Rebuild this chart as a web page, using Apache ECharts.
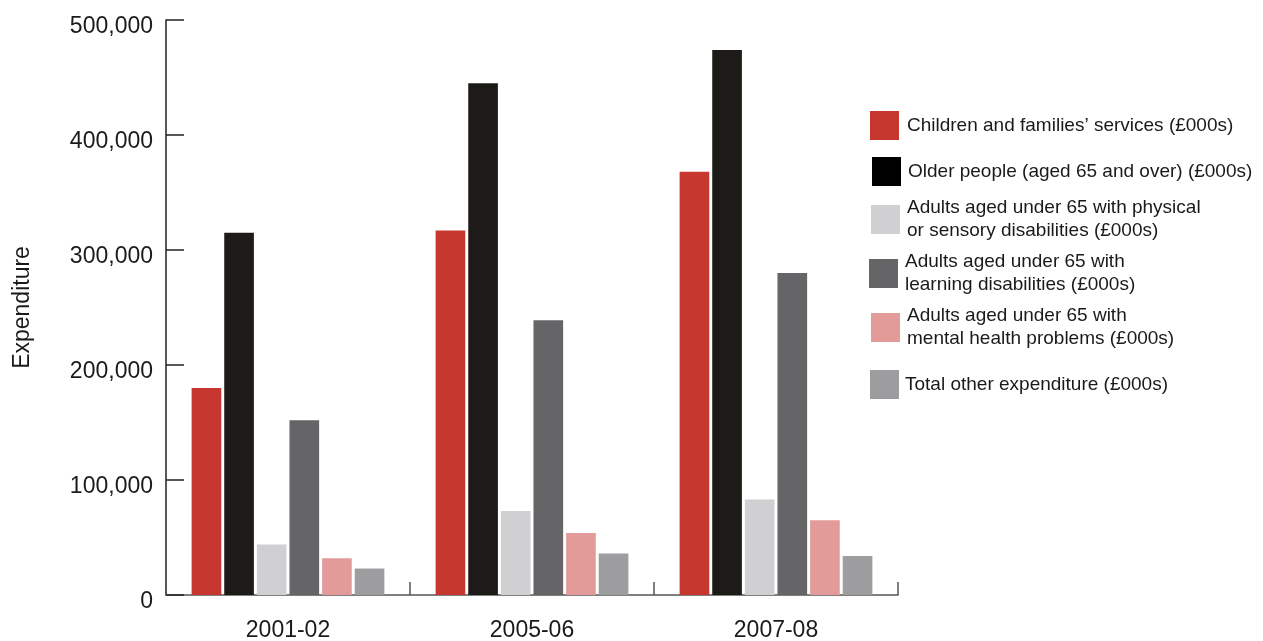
<!DOCTYPE html>
<html>
<head>
<meta charset="utf-8">
<script src="https://cdn.jsdelivr.net/npm/echarts@6/dist/echarts.min.js"></script>
<style>
  html, body { margin: 0; padding: 0; background: #fff; }
  #chart { width: 1263px; height: 641px; }
</style>
</head>
<body>
<div id="chart"></div>
<script>
// Social care expenditure by client group (£000s)
const years = ['2001-02', '2005-06', '2007-08'];
const children = [180000, 317000, 368000];
const older = [315000, 445000, 474000];
const physical = [44000, 73000, 83000];
const learning = [152000, 239000, 280000];
const mental = [32000, 54000, 65000];
const other = [23000, 36000, 34000];

const seriesNames = [
  'Children and families\u2019 services (£000s)',
  'Older people (aged 65 and over) (£000s)',
  'Adults aged under 65 with physical or sensory disabilities (£000s)',
  'Adults aged under 65 with learning disabilities (£000s)',
  'Adults aged under 65 with mental health problems (£000s)',
  'Total other expenditure (£000s)'
];
const legendLabels = [
  'Children and families\u2019 services (£000s)',
  'Older people (aged 65 and over) (£000s)',
  'Adults aged under 65 with physical\nor sensory disabilities (£000s)',
  'Adults aged under 65 with\nlearning disabilities (£000s)',
  'Adults aged under 65 with\nmental health problems (£000s)',
  'Total other expenditure (£000s)'
];
const seriesValues = [children, older, physical, learning, mental, other];
const colors = ['#C5372F', '#1C1B17', '#D0D0D2', '#656567', '#E39B9A', '#9D9D9F'];
const legendColors = ['#C5372F', '#000000', '#D0D0D2', '#656567', '#E39B9A', '#9D9D9F'];

// one legend block per series, each placed on its own
const legendSpots = [
  { left: 870, top: 111,   pad: [3, 0, 0, 3] },
  { left: 872, top: 157,   pad: [0, 0, 2, 2] },
  { left: 871, top: 192.5, pad: [8, 0, 0, 2] },
  { left: 869, top: 247,   pad: [7, 0, 0, 2] },
  { left: 871, top: 300,   pad: [9, 0, 0, 2] },
  { left: 870, top: 370,   pad: [4, 0, 0, 1] }
];

const font = '"Liberation Sans", Arial, Helvetica, sans-serif';

const chart = echarts.init(document.getElementById('chart'), null, { renderer: 'canvas' });

chart.setOption({
  animation: false,
  backgroundColor: '#fff',
  textStyle: { fontFamily: font },
  grid: { left: 166, right: 365, top: 20, bottom: 46, containLabel: false, outerBoundsMode: 'none' },
  legend: seriesNames.map((name, i) => ({
    data: [name],
    left: legendSpots[i].left,
    top: legendSpots[i].top,
    padding: 0,
    orient: 'vertical',
    icon: 'rect',
    itemWidth: 29,
    itemHeight: 29,
    selectedMode: false,
    itemStyle: { color: legendColors[i] },
    formatter: () => legendLabels[i],
    textStyle: {
      fontFamily: font,
      fontSize: 19,
      lineHeight: 23,
      color: '#1a1a1a',
      padding: legendSpots[i].pad
    }
  })),
  xAxis: {
    type: 'category',
    data: years,
    axisLine: { show: true, lineStyle: { color: '#555', width: 1.5 } },
    axisTick: { show: true, inside: true, length: 13, alignWithLabel: false, lineStyle: { color: '#555', width: 1.5 } },
    axisLabel: { fontFamily: font, fontSize: 23, color: '#1a1a1a', margin: 24 }
  },
  yAxis: {
    type: 'value',
    min: 0,
    max: 500000,
    interval: 100000,
    name: 'Expenditure',
    nameLocation: 'middle',
    nameRotate: 90,
    nameGap: 132,
    nameTextStyle: { fontFamily: font, fontSize: 23, color: '#1a1a1a' },
    axisLine: { show: true, lineStyle: { color: '#222', width: 1.5 } },
    axisTick: { show: true, inside: true, length: 18, lineStyle: { color: '#222', width: 1.5 } },
    splitLine: { show: false },
    axisLabel: {
      margin: 13,
      formatter: v => '{v|' + v.toLocaleString('en-GB') + '}',
      rich: {
        v: { fontFamily: font, fontSize: 23, color: '#1a1a1a', lineHeight: 23, padding: [14, 0, 0, 0] }
      }
    }
  },
  series: seriesNames.map((name, i) => ({
    name: name,
    type: 'bar',
    data: seriesValues[i],
    barGap: '10%',
    barCategoryGap: '21%',
    itemStyle: { color: colors[i] }
  }))
});
</script>
</body>
</html>
